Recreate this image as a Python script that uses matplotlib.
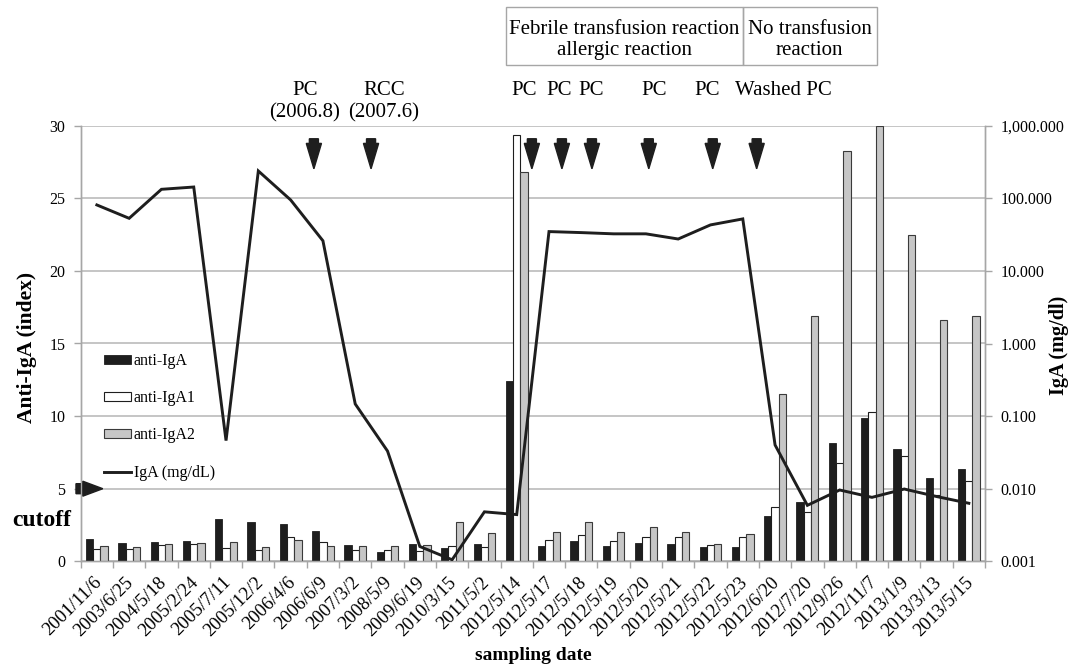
import numpy as np
import matplotlib
matplotlib.use("Agg")
import matplotlib.pyplot as plt
import matplotlib.transforms as mtransforms
from matplotlib.patches import FancyArrow, Rectangle, Patch
from matplotlib.lines import Line2D
from matplotlib.ticker import FixedLocator, FuncFormatter, NullFormatter

plt.rcParams['font.family'] = ['Liberation Serif', 'DejaVu Serif']

dates = ["2001/11/6", "2003/6/25", "2004/5/18", "2005/2/24", "2005/7/11", "2005/12/2",
         "2006/4/6", "2006/6/9", "2007/3/2", "2008/5/9", "2009/6/19", "2010/3/15",
         "2011/5/2", "2012/5/14", "2012/5/17", "2012/5/18", "2012/5/19", "2012/5/20",
         "2012/5/21", "2012/5/22", "2012/5/23", "2012/6/20", "2012/7/20", "2012/9/26",
         "2012/11/7", "2013/1/9", "2013/3/13", "2013/5/15"]

anti_iga = [1.56, 1.24, 1.35, 1.40, 2.92, 2.71, 2.57, 2.09, 1.15, 0.67, 1.22, 0.92,
            1.19, 12.42, 1.06, 1.40, 1.08, 1.29, 1.19, 0.99, 1.01, 3.15, 4.09, 8.17,
            9.87, 7.71, 5.74, 6.38]
anti_iga1 = [0.83, 0.87, 1.10, 1.17, 0.90, 0.76, 1.65, 1.31, 0.76, 0.76, 0.69, 1.03,
             0.96, 29.36, 1.45, 1.84, 1.40, 1.68, 1.68, 1.10, 1.68, 3.74, 3.37, 6.77,
             10.26, 7.28, 4.60, 5.53]
anti_iga2 = [1.06, 0.96, 1.17, 1.24, 1.31, 1.01, 1.45, 1.08, 1.08, 1.03, 1.12, 2.73,
             1.93, 26.81, 2.04, 2.73, 2.00, 2.34, 2.04, 1.17, 1.91, 11.5, 16.9, 28.23,
             30.0, 22.45, 16.6, 16.9]
iga_mgdl = [81, 53, 133, 143, 0.046, 238, 95, 26, 0.147, 0.033, 0.0016, 0.00105,
            0.0048, 0.0044, 34.8, 33.7, 32.4, 32.4, 27.5, 43, 52, 0.040, 0.0059,
            0.0096, 0.0076, 0.0099, 0.0078, 0.0063]

left_ticks = [0, 5, 10, 15, 20, 25, 30]
right_ticks = [0.001, 0.01, 0.1, 1, 10, 100, 1000]

# transfusion annotations (position on category axis, label)
transfusions = [(6.44, "PC", "(2006.8)"), (8.89, "RCC", "(2007.6)")]
arrow_pos = [6.72, 8.49, 13.47, 14.40, 15.33, 17.09, 19.07, 20.43]
pc_labels = [(13.22, "PC"), (14.31, "PC"), (15.30, "PC"), (17.25, "PC"),
             (18.89, "PC"), (21.27, "Washed PC")]

fig = plt.figure(figsize=(10.72, 6.68), dpi=100)
W, H = 1072, 668
ax = fig.add_axes([80.7 / W, 1 - 561.3 / H, 904.3 / W, 435.6 / H])
ax2 = ax.twinx()

x = np.arange(len(dates))
bw = 0.225
grid_c = '#c0c0c0'
spine_c = '#a6a6a6'
dark = '#1e1e1e'

ax.bar(x - bw, anti_iga, bw, color=dark, edgecolor=dark, linewidth=0.6, zorder=3)
ax.bar(x, anti_iga1, bw, color='white', edgecolor=dark, linewidth=0.8, zorder=3)
ax.bar(x + bw, anti_iga2, bw, color='#c6c6c6', edgecolor='#3a3a3a', linewidth=0.8, zorder=3)

ax.set_xlim(-0.5, len(dates) - 0.5)
ax.set_ylim(0, 30)
ax.set_yticks(left_ticks)
ax.yaxis.grid(True, color=grid_c, linewidth=1.3, zorder=0)
ax.set_axisbelow(True)

ax.set_xticks(np.arange(-0.5, len(dates), 1))
ax.set_xticklabels([])
ax.set_xticks(x, minor=True)
ax.set_xticklabels(dates, minor=True, rotation=45, ha='right', va='top',
                   rotation_mode='anchor', fontsize=13.5)
ax.tick_params(axis='x', which='minor', length=0, pad=9)
ax.tick_params(axis='x', which='major', length=5, color=spine_c, width=1)
ax.tick_params(axis='y', length=5, color=spine_c, width=1, labelsize=11.5, pad=6)
shift = mtransforms.ScaledTranslation(-4 / 100, 0, fig.dpi_scale_trans)
for lbl in ax.get_xticklabels(minor=True):
    lbl.set_transform(lbl.get_transform() + shift)

for a in (ax, ax2):
    a.spines['top'].set_visible(False)
    for s in ('left', 'right', 'bottom'):
        a.spines[s].set_color(spine_c)
        a.spines[s].set_linewidth(1)

ax2.plot(x, iga_mgdl, color=dark, linewidth=2.1, zorder=4, solid_joinstyle='miter')
ax2.set_yscale('log')
ax2.set_ylim(0.001, 1000)
ax2.yaxis.set_major_locator(FixedLocator(right_ticks))
ax2.yaxis.set_minor_formatter(NullFormatter())
ax2.yaxis.set_minor_locator(FixedLocator([]))
ax2.yaxis.set_major_formatter(FuncFormatter(lambda v, p: f"{v:,.3f}"))
ax2.tick_params(axis='y', length=5, color=spine_c, width=1, labelsize=11.5, pad=6)

ax.set_ylabel("Anti-IgA (index)", fontsize=15.5, fontweight='bold')
ax.yaxis.set_label_coords(-0.048, 0.49)
ax2.set_ylabel("IgA (mg/dl)", fontsize=14.5, fontweight='bold')
ax2.yaxis.set_label_coords(1.071, 0.495)
ax.set_xlabel("sampling date", fontsize=14, fontweight='bold')
ax.xaxis.set_label_coords(0.5, -0.197)

# cutoff arrow and label
ax.add_patch(FancyArrow(-0.646, 5, 0.83, 0, width=0.69, head_width=1.03, head_length=0.62,
                        length_includes_head=True, color=dark, clip_on=False, zorder=6))
ax.text(-1.70, 2.84, "cutoff", fontsize=17, fontweight='bold', ha='center', va='center',
        clip_on=False)

# transfusion arrows
for xp in arrow_pos:
    ax2.add_patch(FancyArrow(xp, 29.1, 0, -2.07, width=0.28, head_width=0.47, head_length=1.75,
                             length_includes_head=True, color=dark, clip_on=False,
                             zorder=6, transform=ax.transData))

for xp, l1, l2 in transfusions:
    ax.text(xp, 32.4, l1, fontsize=15, ha='center', va='center', clip_on=False)
    ax.text(xp, 30.85, l2, fontsize=15, ha='center', va='center', clip_on=False)
for xp, lab in pc_labels:
    ax.text(xp, 32.4, lab, fontsize=15, ha='center', va='center', clip_on=False)

# reaction box
box_y0, box_y1 = 34.18, 38.17
ax.add_patch(Rectangle((12.67, box_y0), 20.0 - 12.67, box_y1 - box_y0, fill=False,
                       edgecolor=spine_c, linewidth=1, clip_on=False))
ax.add_patch(Rectangle((20.0, box_y0), 24.15 - 20.0, box_y1 - box_y0, fill=False,
                       edgecolor=spine_c, linewidth=1, clip_on=False))
ty = (box_y0 + box_y1) / 2 - 0.3
ax.text((12.67 + 20.0) / 2, ty, "Febrile transfusion reaction\nallergic reaction",
        fontsize=15, ha='center', va='center', linespacing=1.15, clip_on=False)
ax.text((20.0 + 24.15) / 2, ty, "No transfusion\nreaction",
        fontsize=15, ha='center', va='center', linespacing=1.15, clip_on=False)

# legend
handles = [Patch(facecolor=dark, edgecolor=dark, linewidth=0.6),
           Patch(facecolor='white', edgecolor=dark, linewidth=0.8),
           Patch(facecolor='#c6c6c6', edgecolor='#3a3a3a', linewidth=0.8),
           Line2D([0], [0], color=dark, linewidth=2.1)]
labels = ["anti-IgA", "anti-IgA1", "anti-IgA2", "IgA (mg/dL)"]
leg = ax2.legend(handles, labels, loc='upper left', bbox_to_anchor=(104 / W, 1 - 353 / H),
                 bbox_transform=fig.transFigure, frameon=False, fontsize=11.5,
                 handlelength=1.7, handleheight=0.5, handletextpad=0.15,
                 labelspacing=1.33, borderpad=0, borderaxespad=0)

fig.savefig("out.png", dpi=100)
